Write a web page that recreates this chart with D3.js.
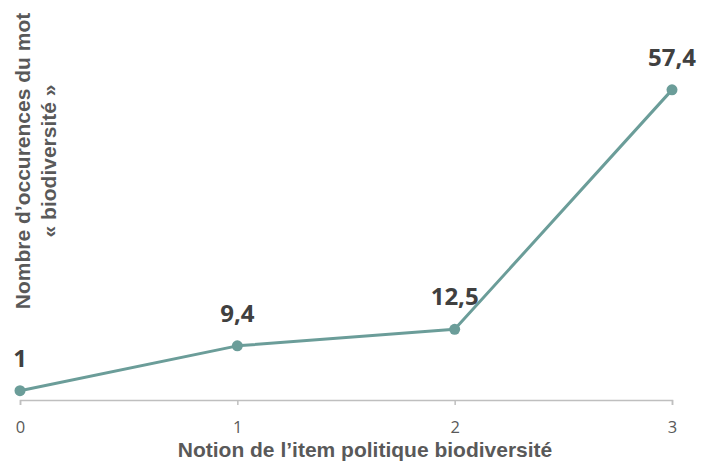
<!DOCTYPE html>
<html>
<head>
<meta charset="utf-8">
<script src="https://cdn.jsdelivr.net/npm/d3@7"></script>
<style>
  html, body { margin: 0; padding: 0; background: #fff; }
  svg { display: block; }
</style>
</head>
<body>
<svg id="chart" width="708" height="465"></svg>
<script>
// Occurrences of the word « biodiversité » by level of the policy item
const levels = [0, 1, 2, 3];
const occurrences = [1, 9.4, 12.5, 57.4];
const valueLabels = ["1", "9,4", "12,5", "57,4"];
const xTickLabels = ["0", "1", "2", "3"];
const xTitle = "Notion de l\u2019item politique biodiversité";
const yTitleLines = ["Nombre d\u2019occurences du mot", "« biodiversité »"];

const W = 708, H = 465;
const svg = d3.select("#chart");

const x = d3.scaleLinear().domain([0, 3]).range([20, 672]);
const y = d3.scaleLinear().domain([-0.75, 60]).range([400, 76]);

const lineColor = "#6b9d99";
const axisColor = "#bfbfbf";
const textGray = "#595959";

// x axis
const xAxis = d3.axisBottom(x)
  .tickValues(levels)
  .tickFormat((d, i) => xTickLabels[i])
  .tickSize(5)
  .tickPadding(16);

const gx = svg.append("g")
  .attr("transform", `translate(0,${y.range()[0]})`)
  .call(xAxis);
gx.select(".domain").attr("stroke", axisColor).attr("stroke-width", 1.5);
gx.selectAll(".tick line").attr("stroke", axisColor).attr("stroke-width", 1.5);
gx.selectAll(".tick text")
  .attr("fill", textGray)
  .style("font-family", "'Open Sans', sans-serif")
  .style("font-size", "16.5px")
  .style("font-weight", 400);

// series line
const line = d3.line()
  .x((d, i) => x(levels[i]))
  .y(d => y(d));

svg.append("path")
  .datum(occurrences)
  .attr("fill", "none")
  .attr("stroke", lineColor)
  .attr("stroke-width", 3)
  .attr("stroke-linejoin", "round")
  .attr("d", line);

svg.selectAll("circle.pt")
  .data(occurrences)
  .join("circle")
  .attr("class", "pt")
  .attr("cx", (d, i) => x(levels[i]))
  .attr("cy", d => y(d))
  .attr("r", 5.5)
  .attr("fill", lineColor);

// value labels
svg.selectAll("text.val")
  .data(occurrences)
  .join("text")
  .attr("class", "val")
  .attr("x", (d, i) => x(levels[i]))
  .attr("y", d => y(d) - 24)
  .attr("text-anchor", "middle")
  .attr("fill", "#404040")
  .style("font-family", "'Open Sans', sans-serif")
  .style("font-size", "24px")
  .style("font-weight", 700)
  .text((d, i) => valueLabels[i]);

// x axis title
svg.append("text")
  .attr("x", 365)
  .attr("y", 457)
  .attr("text-anchor", "middle")
  .attr("fill", textGray)
  .style("font-family", "'Liberation Sans', Arial, sans-serif")
  .style("font-size", "21px")
  .style("font-weight", 700)
  .text(xTitle);

// y axis title (two lines, rotated)
const yt = svg.append("text")
  .attr("transform", "translate(0,161) rotate(-90)")
  .attr("text-anchor", "middle")
  .attr("fill", textGray)
  .style("font-family", "'Liberation Sans', Arial, sans-serif")
  .style("font-size", "21px")
  .style("font-weight", 700);
yTitleLines.forEach((t, i) => {
  yt.append("tspan")
    .attr("x", 0)
    .attr("y", 30 + i * 26)
    .text(t);
});
</script>
</body>
</html>
